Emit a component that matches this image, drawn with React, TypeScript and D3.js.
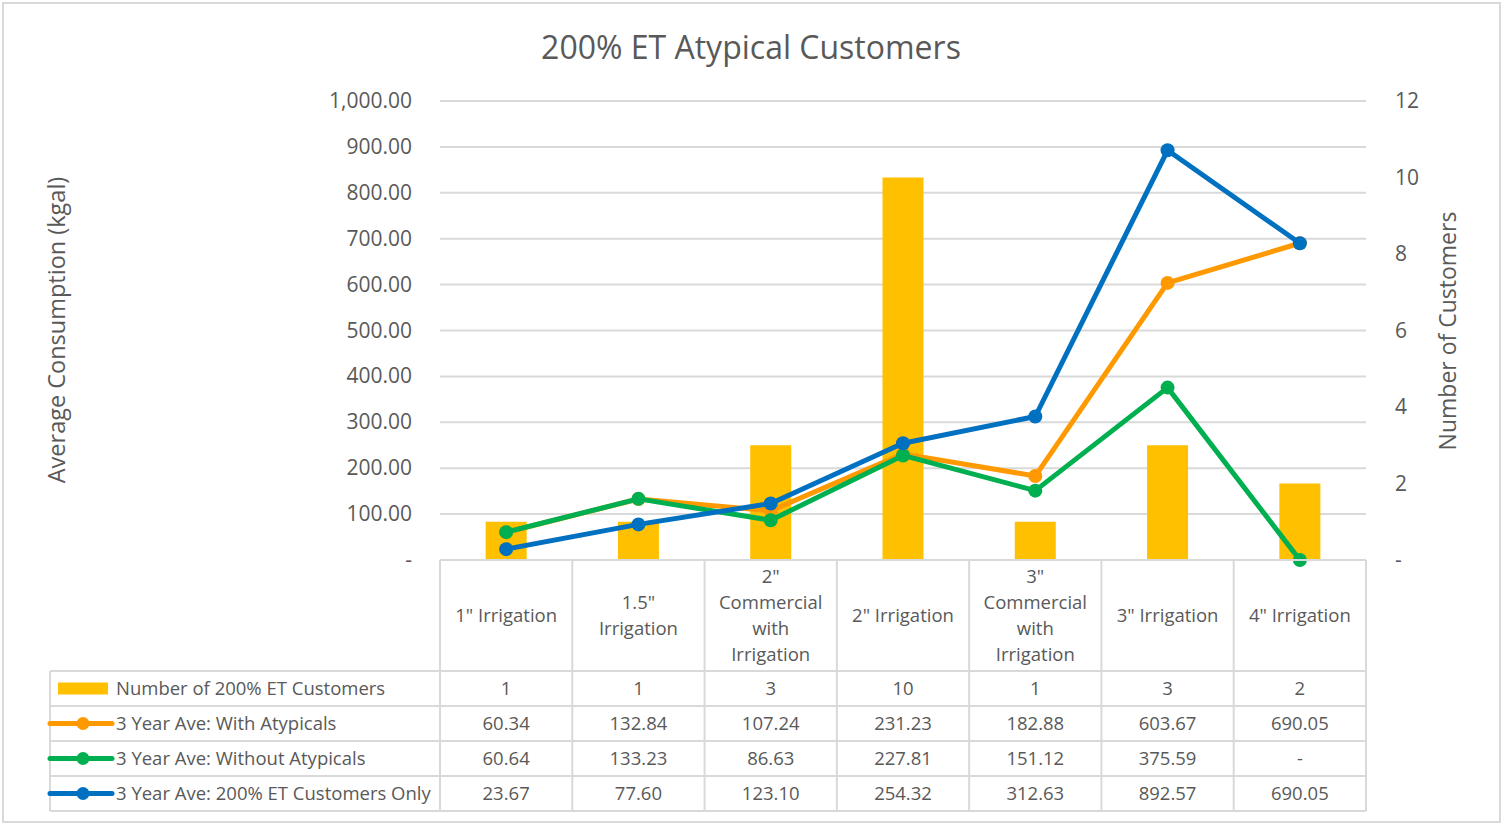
import React from 'react';
import * as d3 from 'd3';

const categories = [
  '1" Irrigation',
  '1.5"\nIrrigation',
  '2"\nCommercial\nwith\nIrrigation',
  '2" Irrigation',
  '3"\nCommercial\nwith\nIrrigation',
  '3" Irrigation',
  '4" Irrigation',
];
const customerCounts = [1, 1, 3, 10, 1, 3, 2];
const withAtypicals = [60.34, 132.84, 107.24, 231.23, 182.88, 603.67, 690.05];
const withoutAtypicals = [60.64, 133.23, 86.63, 227.81, 151.12, 375.59, 0];
const etOnly = [23.67, 77.6, 123.1, 254.32, 312.63, 892.57, 690.05];
const leftTicks = [0, 100, 200, 300, 400, 500, 600, 700, 800, 900, 1000];
const rightTicks = [0, 2, 4, 6, 8, 10, 12];

const lineSeries = [
  { name: '3 Year Ave: With Atypicals', values: withAtypicals, color: '#FF9900' },
  { name: '3 Year Ave: Without Atypicals', values: withoutAtypicals, color: '#00B050' },
  { name: '3 Year Ave: 200% ET Customers Only', values: etOnly, color: '#0070C0' },
];

const W = 1506;
const H = 825;
const FONT = '"Open Sans", sans-serif';
const TEXT = '#595959';
const GRID = '#D9D9D9';

const App = () => {
  const x = d3.scaleBand<string>().domain(categories).range([440, 1366]);
  const yL = d3.scaleLinear().domain([0, 1000]).range([560, 101]);
  const yR = d3.scaleLinear().domain([0, 12]).range([560, 101]);
  const cx = (c: string) => (x(c) || 0) + x.bandwidth() / 2;
  const barW = x.bandwidth() * 0.31;

  const fmtL = (v: number) => (v === 0 ? '-' : d3.format(',.2f')(v));
  const fmtR = (v: number) => (v === 0 ? '-' : String(v));

  const line = d3
    .line<number>()
    .x((_, i) => cx(categories[i]))
    .y((d) => yL(d));

  const headerTop = 560;
  const headerBottom = 671;
  const rowH = 35;
  const tableLeft = 50;
  const rows = [
    { key: 'bar', name: 'Number of 200% ET Customers', cells: customerCounts.map(String) },
    ...lineSeries.map((s) => ({ key: s.name, name: s.name, cells: s.values.map(fmtL), color: s.color })),
  ];
  const tableBottom = headerBottom + rows.length * rowH;
  const bounds = [...categories.map((c) => x(c) || 0), 1366];

  return (
    <svg
      width={W}
      height={H}
      style={{ position: 'absolute', left: 0, top: 0, background: '#fff' }}
      fontFamily={FONT}
    >
      <rect x={3} y={3} width={1497} height={819} fill="#fff" stroke={GRID} strokeWidth={2} />

      <text x={751} y={59} textAnchor="middle" fontSize={32} fill={TEXT}>
        200% ET Atypical Customers
      </text>

      {/* gridlines */}
      {leftTicks.map((t) => (
        <line key={t} x1={440} x2={1366} y1={yL(t)} y2={yL(t)} stroke={GRID} strokeWidth={2} />
      ))}

      {/* left axis */}
      {leftTicks.map((t) => (
        <text key={t} x={412} y={yL(t) + 7} textAnchor="end" fontSize={21} fill={TEXT}>
          {fmtL(t)}
        </text>
      ))}
      {/* right axis */}
      {rightTicks.map((t) => (
        <text key={t} x={1395} y={yR(t) + 7} fontSize={21} fill={TEXT}>
          {fmtR(t)}
        </text>
      ))}

      <text transform="translate(65,330) rotate(-90)" textAnchor="middle" fontSize={23.5} fill={TEXT}>
        Average Consumption (kgal)
      </text>
      <text transform="translate(1456,331) rotate(-90)" textAnchor="middle" fontSize={23} fill={TEXT}>
        Number of Customers
      </text>

      {/* bars */}
      {categories.map((c, i) => (
        <rect
          key={c}
          x={cx(c) - barW / 2}
          y={yR(customerCounts[i])}
          width={barW}
          height={yR(0) - yR(customerCounts[i])}
          fill="#FFC000"
        />
      ))}

      {/* lines */}
      {lineSeries.map((s) => (
        <g key={s.name}>
          <path d={line(s.values) || ''} fill="none" stroke={s.color} strokeWidth={5} strokeLinejoin="round" />
          {s.values.map((v, i) => (
            <circle key={i} cx={cx(categories[i])} cy={yL(v)} r={7} fill={s.color} />
          ))}
        </g>
      ))}

      {/* data table */}
      <g stroke={GRID} strokeWidth={2}>
        <line x1={440} x2={1366} y1={headerTop} y2={headerTop} />
        {rows.map((r, i) => (
          <line key={r.key} x1={tableLeft} x2={1366} y1={headerBottom + i * rowH} y2={headerBottom + i * rowH} />
        ))}
        <line x1={tableLeft} x2={1366} y1={tableBottom} y2={tableBottom} />
        <line x1={tableLeft} x2={tableLeft} y1={headerBottom} y2={tableBottom} />
        {bounds.map((b, i) => (
          <line key={i} x1={b} x2={b} y1={headerTop} y2={tableBottom} />
        ))}
      </g>

      {categories.map((c) => {
        const parts = c.split('\n');
        const lh = 26;
        const mid = (headerTop + headerBottom) / 2;
        return (
          <text key={c} textAnchor="middle" fontSize={18.5} fill={TEXT}>
            {parts.map((p, j) => (
              <tspan key={j} x={cx(c)} y={mid + (j - (parts.length - 1) / 2) * lh + 6}>
                {p}
              </tspan>
            ))}
          </text>
        );
      })}

      {rows.map((r, i) => {
        const cy = headerBottom + i * rowH + rowH / 2;
        return (
          <g key={r.key}>
            {r.key === 'bar' ? (
              <rect x={58} y={cy - 6} width={50} height={12} fill="#FFC000" />
            ) : (
              <g>
                <line x1={50} x2={112} y1={cy} y2={cy} stroke={(r as any).color} strokeWidth={5} strokeLinecap="round" />
                <circle cx={83} cy={cy} r={6.5} fill={(r as any).color} />
              </g>
            )}
            <text x={116} y={cy + 6.5} fontSize={18.5} fill={TEXT}>
              {r.name}
            </text>
            {r.cells.map((v, j) => (
              <text key={j} x={cx(categories[j])} y={cy + 6.5} textAnchor="middle" fontSize={18.5} fill={TEXT}>
                {v}
              </text>
            ))}
          </g>
        );
      })}
    </svg>
  );
};

export default App;
